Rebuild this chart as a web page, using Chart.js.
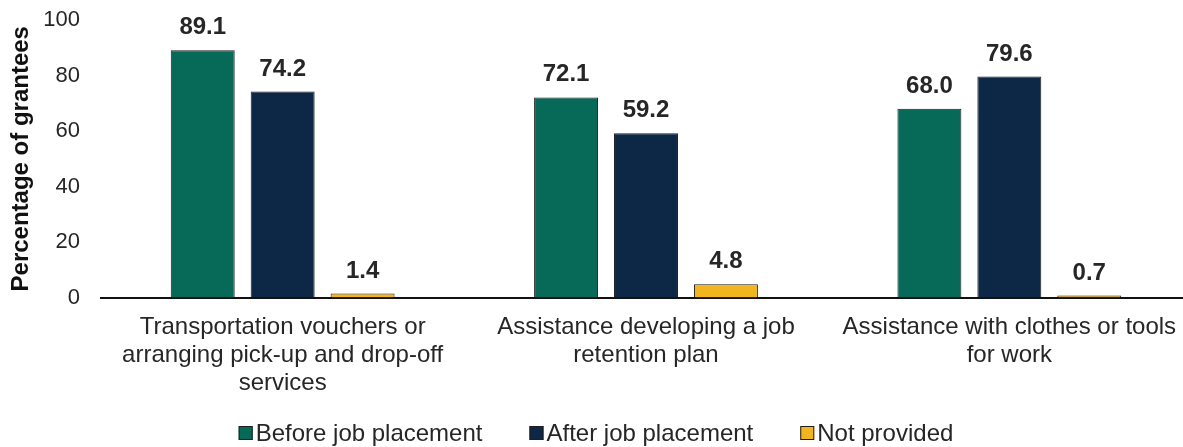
<!DOCTYPE html>
<html>
<head>
<meta charset="utf-8">
<title>Job placement supports</title>
<script src="https://cdn.jsdelivr.net/npm/chart.js@4/dist/chart.umd.min.js"></script>
<style>
    html, body { margin: 0; padding: 0; background: #fff; overflow: hidden; }
    canvas { display: block; }
</style>
</head>
<body>
<canvas id="supportChart" width="1200" height="447"></canvas>
<script>
// ------------------ Data ------------------
const categories = [
    ['Transportation vouchers or', 'arranging pick-up and drop-off', 'services'],
    ['Assistance developing a job', 'retention plan'],
    ['Assistance with clothes or tools', 'for work']
];
const seriesNames = ['Before job placement', 'After job placement', 'Not provided'];
const beforePlacement = [89.1, 72.1, 68.0];
const afterPlacement = [74.2, 59.2, 79.6];
const notProvided = [1.4, 4.8, 0.7];
const yTicks = [0, 20, 40, 60, 80, 100];

const FONT = '"Liberation Sans", Arial, sans-serif';
const TEXT = '#262626';

// ------------------ Value labels above bars ------------------
const valueLabels = {
    id: 'valueLabels',
    afterDatasetsDraw(chart) {
        const {ctx} = chart;
        ctx.save();
        ctx.font = 'bold 24px ' + FONT;
        ctx.fillStyle = TEXT;
        ctx.textAlign = 'center';
        ctx.textBaseline = 'alphabetic';
        chart.data.datasets.forEach((ds, i) => {
            chart.getDatasetMeta(i).data.forEach((bar, j) => {
                ctx.fillText(ds.data[j].toFixed(1), bar.x, bar.y - 16);
            });
        });
        ctx.restore();
    }
};

// ------------------ Legend row (small square + tight text) ------------------
const legendRow = {
    id: 'legendRow',
    afterDraw(chart) {
        const {ctx} = chart;
        const box = 14, gap = 3, itemGap = 47, y = 433, centerX = 596;
        ctx.save();
        ctx.font = '24px ' + FONT;
        ctx.textBaseline = 'middle';
        ctx.textAlign = 'left';
        const items = chart.data.datasets.map(ds => ({
            ds, w: box + gap + ctx.measureText(ds.label).width
        }));
        const total = items.reduce((s, it) => s + it.w, 0) + itemGap * (items.length - 1);
        let x = centerX - total / 2;
        items.forEach(({ds, w}) => {
            ctx.fillStyle = ds.backgroundColor;
            ctx.fillRect(x, y - box / 2, box, box);
            ctx.strokeStyle = '#1e1e1e';
            ctx.lineWidth = 1;
            ctx.strokeRect(x + 0.5, y - box / 2 + 0.5, box - 1, box - 1);
            ctx.fillStyle = TEXT;
            ctx.fillText(ds.label, x + box + gap, y + 1);
            x += w + itemGap;
        });
        ctx.restore();
    }
};

const barStyle = {
    borderColor: '#1e1e1e',
    borderWidth: 1,
    categoryPercentage: 0.66,
    barPercentage: 0.8
};

new Chart(document.getElementById('supportChart').getContext('2d'), {
    type: 'bar',
    data: {
        labels: categories,
        datasets: [
            { label: seriesNames[0], data: beforePlacement, backgroundColor: '#076a59', ...barStyle },
            { label: seriesNames[1], data: afterPlacement, backgroundColor: '#0c2846', ...barStyle },
            { label: seriesNames[2], data: notProvided, backgroundColor: '#f1b520', ...barStyle }
        ]
    },
    options: {
        responsive: false,
        animation: false,
        layout: { padding: { left: 0, right: 9, top: 20, bottom: 47.5 } },
        plugins: {
            legend: { display: false },
            tooltip: { enabled: false }
        },
        scales: {
            x: {
                grid: { display: false, drawTicks: false },
                border: { display: true, color: '#111', width: 2 },
                ticks: {
                    color: TEXT,
                    padding: 16,
                    maxRotation: 0,
                    autoSkip: false,
                    font: { family: FONT, size: 24, lineHeight: 1.17 }
                },
                afterFit(scale) { scale.height = 102; }
            },
            y: {
                min: 0,
                max: 100,
                grid: { display: false, drawTicks: false },
                border: { display: false },
                afterBuildTicks(scale) { scale.ticks = yTicks.map(v => ({ value: v })); },
                ticks: {
                    color: TEXT,
                    padding: 21,
                    font: { family: FONT, size: 22 }
                },
                title: {
                    display: true,
                    text: 'Percentage of grantees',
                    color: '#111',
                    padding: { top: 7, bottom: 0 },
                    font: { family: FONT, size: 24, weight: 'bold' }
                },
                afterFit(scale) {
                    scale.width = 101;
                    // the top tick label has room above the plot; don't reserve extra
                    scale.paddingTop = 0;
                    scale.paddingBottom = 0;
                }
            }
        }
    },
    plugins: [valueLabels, legendRow]
});
</script>
</body>
</html>
